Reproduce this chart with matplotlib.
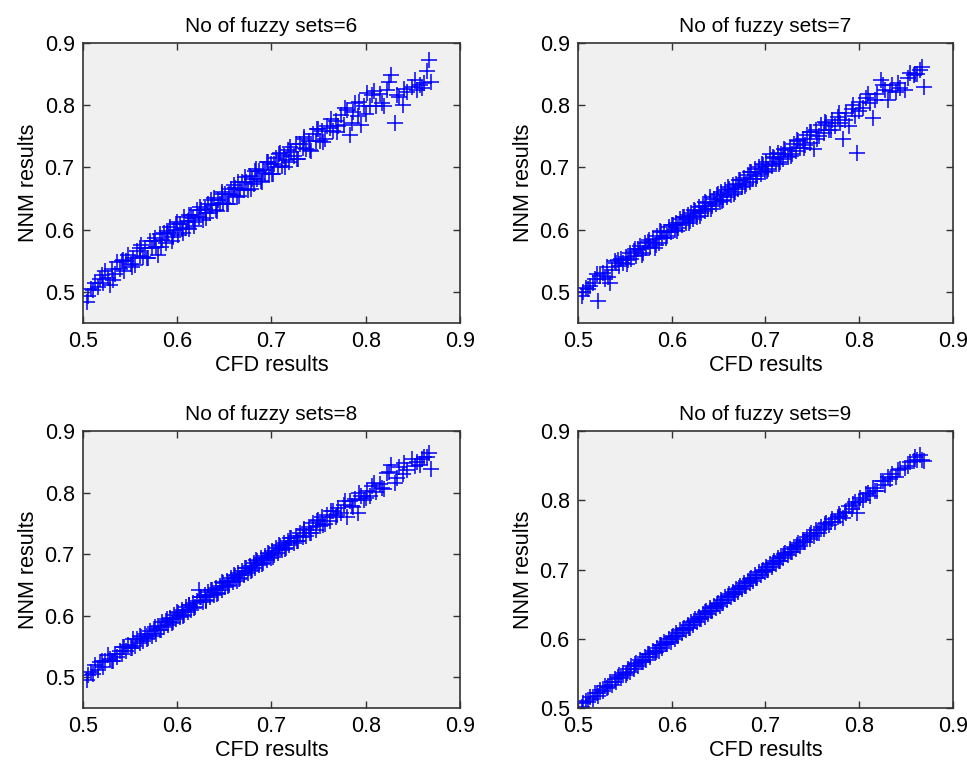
import matplotlib
matplotlib.use('Agg')
import matplotlib.pyplot as plt

plt.rcParams['font.family'] = ['Liberation Sans', 'DejaVu Sans']

# CFD results (shared test cases)
cfd = [
    0.504, 0.505, 0.509, 0.513, 0.516, 0.518, 0.521, 0.523, 0.527, 0.529,
    0.531, 0.534, 0.536, 0.539, 0.541, 0.544, 0.546, 0.548, 0.551, 0.553,
    0.555, 0.557, 0.560, 0.562, 0.564, 0.566, 0.569, 0.571, 0.573, 0.575,
    0.577, 0.580, 0.582, 0.584, 0.586, 0.588, 0.590, 0.592, 0.595, 0.597,
    0.599, 0.601, 0.603, 0.605, 0.607, 0.609, 0.611, 0.613, 0.615, 0.617,
    0.619, 0.621, 0.623, 0.625, 0.627, 0.629, 0.631, 0.633, 0.635, 0.637,
    0.639, 0.641, 0.643, 0.645, 0.647, 0.649, 0.651, 0.653, 0.655, 0.657,
    0.659, 0.661, 0.663, 0.665, 0.667, 0.669, 0.671, 0.673, 0.675, 0.677,
    0.679, 0.681, 0.683, 0.685, 0.687, 0.689, 0.691, 0.693, 0.695, 0.697,
    0.699, 0.701, 0.703, 0.705, 0.707, 0.709, 0.711, 0.713, 0.715, 0.717,
    0.719, 0.721, 0.724, 0.726, 0.728, 0.730, 0.733, 0.735, 0.737, 0.740,
    0.742, 0.744, 0.747, 0.749, 0.752, 0.754, 0.757, 0.759, 0.762, 0.765,
    0.768, 0.771, 0.774, 0.777, 0.780, 0.783, 0.786, 0.789, 0.792, 0.795,
    0.798, 0.801, 0.804, 0.807, 0.811, 0.815, 0.819, 0.823, 0.827, 0.831,
    0.835, 0.839, 0.844, 0.849, 0.854, 0.858, 0.862, 0.865, 0.867, 0.869,
    0.511, 0.520, 0.532, 0.543, 0.552, 0.561, 0.568, 0.576, 0.583, 0.589,
    0.594, 0.600, 0.606, 0.612, 0.618, 0.624, 0.630, 0.636, 0.642, 0.648,
    0.654, 0.660, 0.666, 0.672, 0.678, 0.684, 0.690, 0.696, 0.702, 0.708,
    0.714, 0.720, 0.727, 0.734, 0.741, 0.748, 0.755, 0.763, 0.770, 0.778,
    0.785, 0.793, 0.800, 0.809, 0.817, 0.825, 0.833, 0.841, 0.852, 0.860,
]

# NNM results for each number of fuzzy sets
nnm6 = [
    0.484, 0.493, 0.505, 0.515, 0.508, 0.521, 0.515, 0.533, 0.523, 0.511,
    0.537, 0.528, 0.548, 0.537, 0.549, 0.534, 0.550, 0.559, 0.545, 0.555,
    0.543, 0.566, 0.557, 0.575, 0.556, 0.571, 0.555, 0.581, 0.571, 0.582,
    0.572, 0.559, 0.593, 0.583, 0.594, 0.579, 0.594, 0.604, 0.589, 0.599,
    0.609, 0.591, 0.609, 0.601, 0.620, 0.602, 0.614, 0.601, 0.623, 0.618,
    0.613, 0.632, 0.621, 0.632, 0.616, 0.633, 0.626, 0.642, 0.627, 0.639,
    0.651, 0.632, 0.648, 0.642, 0.657, 0.643, 0.658, 0.642, 0.658, 0.666,
    0.655, 0.667, 0.653, 0.676, 0.665, 0.677, 0.664, 0.677, 0.663, 0.687,
    0.681, 0.673, 0.695, 0.681, 0.694, 0.678, 0.696, 0.691, 0.708, 0.690,
    0.705, 0.689, 0.706, 0.715, 0.701, 0.723, 0.702, 0.718, 0.712, 0.728,
    0.709, 0.725, 0.719, 0.738, 0.714, 0.737, 0.731, 0.745, 0.729, 0.743,
    0.727, 0.753, 0.743, 0.762, 0.743, 0.758, 0.745, 0.767, 0.763, 0.759,
    0.774, 0.767, 0.784, 0.769, 0.792, 0.752, 0.789, 0.803, 0.782, 0.768,
    0.798, 0.819, 0.798, 0.817, 0.799, 0.818, 0.798, 0.825, 0.848, 0.771,
    0.813, 0.800, 0.821, 0.830, 0.825, 0.833, 0.836, 0.855, 0.872, 0.838,
    0.503, 0.527, 0.519, 0.551, 0.540, 0.570, 0.554, 0.587, 0.572, 0.598,
    0.582, 0.612, 0.595, 0.623, 0.606, 0.636, 0.619, 0.647, 0.630, 0.660,
    0.642, 0.672, 0.654, 0.684, 0.666, 0.697, 0.677, 0.709, 0.689, 0.722,
    0.700, 0.733, 0.713, 0.749, 0.728, 0.762, 0.741, 0.778, 0.757, 0.795,
    0.771, 0.806, 0.786, 0.823, 0.803, 0.837, 0.816, 0.826, 0.840, 0.828,
]
nnm7 = [
    0.494, 0.500, 0.507, 0.510, 0.514, 0.520, 0.485, 0.526, 0.531, 0.521,
    0.540, 0.514, 0.535, 0.550, 0.546, 0.541, 0.553, 0.547, 0.556, 0.551,
    0.562, 0.553, 0.566, 0.558, 0.569, 0.574, 0.563, 0.578, 0.570, 0.580,
    0.572, 0.585, 0.570, 0.590, 0.578, 0.598, 0.586, 0.597, 0.590, 0.604,
    0.596, 0.608, 0.600, 0.611, 0.603, 0.617, 0.608, 0.621, 0.611, 0.624,
    0.614, 0.626, 0.617, 0.630, 0.621, 0.636, 0.627, 0.638, 0.630, 0.643,
    0.633, 0.652, 0.638, 0.649, 0.641, 0.657, 0.645, 0.660, 0.648, 0.664,
    0.653, 0.666, 0.656, 0.671, 0.661, 0.674, 0.665, 0.680, 0.669, 0.683,
    0.673, 0.688, 0.677, 0.692, 0.681, 0.697, 0.686, 0.700, 0.690, 0.704,
    0.693, 0.708, 0.698, 0.721, 0.702, 0.715, 0.706, 0.724, 0.709, 0.721,
    0.713, 0.728, 0.717, 0.732, 0.722, 0.738, 0.726, 0.742, 0.731, 0.746,
    0.736, 0.752, 0.740, 0.757, 0.729, 0.761, 0.750, 0.768, 0.756, 0.771,
    0.761, 0.777, 0.766, 0.781, 0.772, 0.745, 0.787, 0.766, 0.794, 0.782,
    0.723, 0.806, 0.796, 0.812, 0.803, 0.779, 0.818, 0.841, 0.825, 0.809,
    0.832, 0.822, 0.828, 0.825, 0.852, 0.848, 0.850, 0.857, 0.862, 0.830,
    0.505, 0.528, 0.524, 0.551, 0.545, 0.569, 0.560, 0.584, 0.575, 0.596,
    0.586, 0.608, 0.598, 0.620, 0.610, 0.632, 0.622, 0.645, 0.634, 0.656,
    0.646, 0.668, 0.658, 0.680, 0.670, 0.692, 0.682, 0.705, 0.694, 0.717,
    0.706, 0.729, 0.719, 0.744, 0.732, 0.757, 0.746, 0.773, 0.761, 0.788,
    0.776, 0.801, 0.790, 0.818, 0.808, 0.833, 0.823, 0.835, 0.843, 0.851,
]
nnm8 = [
    0.496, 0.504, 0.508, 0.520, 0.512, 0.524, 0.516, 0.527, 0.536, 0.530,
    0.527, 0.538, 0.533, 0.543, 0.537, 0.549, 0.542, 0.553, 0.547, 0.562,
    0.551, 0.562, 0.556, 0.566, 0.559, 0.571, 0.564, 0.575, 0.567, 0.579,
    0.571, 0.584, 0.576, 0.589, 0.581, 0.592, 0.585, 0.596, 0.590, 0.601,
    0.594, 0.605, 0.598, 0.609, 0.601, 0.614, 0.606, 0.617, 0.609, 0.620,
    0.614, 0.624, 0.641, 0.630, 0.622, 0.633, 0.626, 0.638, 0.630, 0.641,
    0.634, 0.645, 0.637, 0.649, 0.642, 0.653, 0.646, 0.657, 0.650, 0.661,
    0.654, 0.665, 0.657, 0.669, 0.662, 0.673, 0.666, 0.677, 0.670, 0.681,
    0.674, 0.685, 0.677, 0.689, 0.682, 0.693, 0.686, 0.697, 0.690, 0.701,
    0.694, 0.705, 0.698, 0.710, 0.702, 0.713, 0.706, 0.718, 0.710, 0.721,
    0.714, 0.726, 0.718, 0.730, 0.722, 0.734, 0.727, 0.739, 0.730, 0.744,
    0.735, 0.750, 0.739, 0.755, 0.745, 0.760, 0.749, 0.763, 0.753, 0.770,
    0.761, 0.775, 0.766, 0.780, 0.760, 0.786, 0.777, 0.790, 0.766, 0.795,
    0.788, 0.803, 0.795, 0.810, 0.801, 0.814, 0.806, 0.832, 0.844, 0.815,
    0.842, 0.830, 0.836, 0.855, 0.850, 0.845, 0.857, 0.858, 0.865, 0.839,
    0.506, 0.526, 0.527, 0.549, 0.547, 0.567, 0.562, 0.582, 0.577, 0.595,
    0.588, 0.606, 0.600, 0.618, 0.612, 0.630, 0.624, 0.642, 0.636, 0.654,
    0.648, 0.666, 0.660, 0.678, 0.672, 0.690, 0.684, 0.702, 0.696, 0.714,
    0.708, 0.726, 0.721, 0.740, 0.734, 0.754, 0.748, 0.770, 0.763, 0.786,
    0.778, 0.800, 0.791, 0.816, 0.808, 0.834, 0.823, 0.848, 0.843, 0.854,
]
nnm9 = [
    0.502, 0.507, 0.510, 0.516, 0.513, 0.521, 0.518, 0.526, 0.524, 0.532,
    0.529, 0.537, 0.533, 0.542, 0.538, 0.547, 0.543, 0.551, 0.548, 0.557,
    0.552, 0.560, 0.557, 0.565, 0.561, 0.569, 0.566, 0.574, 0.570, 0.578,
    0.574, 0.583, 0.579, 0.587, 0.583, 0.591, 0.587, 0.595, 0.592, 0.600,
    0.596, 0.604, 0.600, 0.608, 0.604, 0.612, 0.608, 0.616, 0.612, 0.620,
    0.616, 0.624, 0.620, 0.628, 0.624, 0.632, 0.628, 0.636, 0.632, 0.640,
    0.636, 0.644, 0.640, 0.648, 0.644, 0.652, 0.648, 0.656, 0.652, 0.660,
    0.656, 0.664, 0.660, 0.668, 0.664, 0.672, 0.668, 0.676, 0.672, 0.680,
    0.676, 0.684, 0.680, 0.688, 0.684, 0.692, 0.688, 0.696, 0.692, 0.700,
    0.696, 0.704, 0.700, 0.708, 0.704, 0.712, 0.708, 0.716, 0.712, 0.720,
    0.716, 0.724, 0.721, 0.729, 0.725, 0.733, 0.730, 0.738, 0.734, 0.743,
    0.739, 0.747, 0.744, 0.752, 0.748, 0.757, 0.753, 0.762, 0.758, 0.767,
    0.764, 0.773, 0.769, 0.776, 0.777, 0.775, 0.782, 0.791, 0.788, 0.797,
    0.781, 0.803, 0.800, 0.809, 0.806, 0.817, 0.814, 0.828, 0.822, 0.834,
    0.838, 0.833, 0.845, 0.847, 0.855, 0.857, 0.858, 0.865, 0.858, 0.857,
    0.509, 0.522, 0.530, 0.545, 0.550, 0.563, 0.566, 0.578, 0.581, 0.591,
    0.592, 0.602, 0.604, 0.614, 0.616, 0.626, 0.628, 0.638, 0.640, 0.650,
    0.652, 0.662, 0.664, 0.674, 0.676, 0.686, 0.688, 0.698, 0.700, 0.710,
    0.712, 0.722, 0.725, 0.736, 0.739, 0.750, 0.753, 0.765, 0.768, 0.780,
    0.783, 0.795, 0.797, 0.811, 0.814, 0.828, 0.830, 0.843, 0.849, 0.862,
]

fuzzy_sets = [6, 7, 8, 9]
nnm_all = [nnm6, nnm7, nnm8, nnm9]
ylims = [(0.45, 0.9), (0.45, 0.9), (0.45, 0.9), (0.5, 0.9)]
ticks = [0.5, 0.6, 0.7, 0.8, 0.9]
tick_labels = ['0.5', '0.6', '0.7', '0.8', '0.9']

fig = plt.figure(figsize=(9.67, 7.63), dpi=100)
rects = [
    [0.0858, 0.5767, 0.3899, 0.3669],
    [0.5977, 0.5767, 0.3878, 0.3669],
    [0.0858, 0.0721, 0.3899, 0.3630],
    [0.5977, 0.0721, 0.3878, 0.3630],
]

for rect, n, nnm, yl in zip(rects, fuzzy_sets, nnm_all, ylims):
    ax = fig.add_axes(rect)
    ax.set_facecolor('#f0f0f0')
    ax.plot(cfd, nnm, '+', color='#0000ff', markersize=11, markeredgewidth=1.1)
    ax.set_xlim(0.5, 0.9)
    ax.set_ylim(*yl)
    ax.set_xticks(ticks)
    ax.set_yticks(ticks)
    ax.set_xticklabels(tick_labels)
    ax.set_yticklabels(tick_labels)
    ax.tick_params(direction='in', length=5, width=1, top=True, right=True,
                   labelsize=15.5, color='#333333', pad=6)
    for sp in ax.spines.values():
        sp.set_color('#333333')
        sp.set_linewidth(1.2)
    ax.set_title('No of fuzzy sets=%d' % n, fontsize=15, pad=8)
    ax.set_xlabel('CFD results', fontsize=15.5, labelpad=2)
    ax.set_ylabel('NNM results', fontsize=15.5, labelpad=4)

fig.savefig('out.png', dpi=100)
